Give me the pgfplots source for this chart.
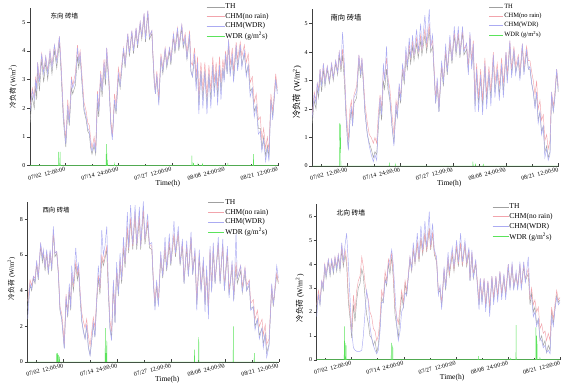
\documentclass[border=0pt]{standalone}
\usepackage{fontspec}
\setmainfont{Liberation Serif}
\newfontfamily\cjk{Noto Sans CJK SC}
\usepackage{pgfplots}
\usepackage{pgfplotstable}
\pgfplotsset{compat=1.18}
\definecolor{cTH}{HTML}{A0A0A0}
\definecolor{cNR}{HTML}{F2A4AC}
\definecolor{cWDR}{HTML}{ABABF2}
\definecolor{cRain}{HTML}{5BE35B}

% East
\pgfplotstableread{
x th nr wdr
0 1.5 2.0 1.9
13 2.4 2.7 2.6
24 2.0 2.4 2.3
32 2.8 3.1 3.0
38 2.3 2.7 2.6
43 3.4 3.6 3.6
53 2.6 3.0 2.9
66 3.7 3.9 3.9
77 2.9 3.3 3.2
89 3.6 3.8 3.8
100 3.0 3.3 3.2
113 3.8 4.0 4.0
124 3.2 3.5 3.4
138 4.0 4.2 4.2
151 3.4 3.7 3.6
166 4.3 4.5 4.5
175 3.3 3.6 3.5
188 1.6 1.9 1.8
202 0.65 0.9 0.75
213 1.9 2.3 2.1
222 1.4 1.6 1.5
234 2.7 3.1 3.0
241 2.5 2.8 2.7
256 2.8 3.2 3.0
268 3.8 4.2 4.1
275 3.4 3.7 3.6
283 3.8 4.0 3.9
294 2.8 3.1 2.9
305 1.9 2.2 2.0
317 1.6 1.9 1.7
326 1.2 1.5 1.3
335 1.1 1.4 1.2
343 0.6 0.9 0.7
350 0.4 0.6 0.5
362 0.7 1.0 0.8
371 0.4 0.6 0.5
381 2.2 2.6 2.5
388 1.7 2.0 1.9
399 3.0 3.3 3.2
407 2.4 2.7 2.6
418 3.4 3.7 3.6
426 2.8 3.1 3.0
433 3.8 4.1 4.1
445 2.9 3.1 3.0
456 1.5 1.6 1.4
465 1.0 1.0 0.9
477 2.2 2.5 2.3
486 1.8 2.1 1.9
499 3.1 3.4 3.2
509 2.7 3.0 2.8
528 4.0 4.1 4.1
537 3.4 3.6 3.5
552 4.5 4.6 4.6
561 3.8 3.9 3.9
575 4.6 4.7 4.7
584 3.9 4.0 4.0
599 4.7 4.8 4.8
607 4.1 4.2 4.2
622 4.9 5.0 5.0
631 4.4 4.5 4.5
644 5.2 5.3 5.3
652 4.3 4.4 4.4
665 5.3 5.4 5.4
674 4.4 4.5 4.5
688 4.6 4.7 4.7
693 3.9 4.0 4.0
701 2.9 3.1 3.0
708 2.5 2.6 2.5
716 3.1 3.3 3.2
727 2.2 2.3 2.1
739 3.7 3.9 3.8
750 3.2 3.4 3.3
763 4.0 4.1 4.1
772 3.4 3.6 3.5
788 4.0 4.1 4.1
795 3.5 3.7 3.6
810 4.5 4.6 4.6
818 3.9 4.1 4.0
833 4.7 4.8 4.8
840 4.0 4.2 4.1
857 4.8 4.9 4.9
865 4.1 4.3 4.2
876 4.4 4.6 4.5
886 3.7 3.9 3.7
901 4.5 4.7 4.6
908 3.3 3.6 3.3
917 3.1 3.5 3.1
929 3.8 4.1 3.9
938 2.8 3.1 2.6
946 3.5 3.8 3.6
953 2.1 2.4 1.8
965 3.3 3.6 3.3
976 2.3 2.6 2.0
987 3.3 3.6 3.3
999 2.1 2.4 1.8
1010 3.2 3.5 3.2
1021 2.3 2.6 2.0
1032 3.5 3.8 3.5
1040 2.6 2.9 2.4
1051 3.3 3.6 3.3
1059 2.4 2.7 2.1
1070 3.5 3.8 3.5
1078 2.6 2.9 2.3
1089 3.4 3.7 3.4
1096 3.0 3.3 2.9
1104 3.8 4.0 3.9
1113 3.2 3.5 3.2
1121 4.3 4.4 4.4
1130 3.2 3.5 3.1
1142 3.8 4.1 3.9
1149 3.0 3.3 2.9
1164 4.1 4.3 4.2
1172 3.4 3.7 3.3
1187 4.1 4.3 4.2
1196 3.5 3.8 3.4
1210 3.9 4.2 4.0
1221 3.2 3.6 3.1
1232 3.5 3.9 3.5
1243 2.6 2.9 2.4
1255 2.7 3.1 2.7
1266 1.9 2.2 1.7
1277 2.1 2.5 2.1
1289 1.3 1.6 1.1
1300 1.3 1.7 1.2
1309 0.6 0.9 0.5
1319 1.0 1.3 0.9
1330 0.35 0.6 0.15
1340 0.7 1.0 0.6
1349 0.3 0.5 0.15
1360 2.3 2.5 2.3
1370 1.7 1.9 1.6
1377 2.2 2.4 2.2
1387 3.0 3.2 3.0
1396 2.6 2.7 2.5
}\tA

% South
\pgfplotstableread{
x th nr wdr
0 1.5 1.8 1.7
11 2.3 2.6 2.5
21 2.0 2.3 2.2
28 2.7 2.9 2.9
36 2.4 2.7 2.6
44 3.2 3.4 3.4
53 2.6 2.9 2.8
63 3.4 3.6 3.6
72 2.8 3.0 2.9
85 3.4 3.5 3.5
97 2.9 3.0 3.0
110 3.5 3.6 3.6
119 3.0 3.1 3.1
133 3.6 3.7 3.7
144 3.2 3.3 3.3
153 3.9 4.0 4.0
163 3.3 3.5 3.5
172 3.9 4.1 4.7
182 3.0 3.4 3.6
191 1.8 2.2 1.9
199 1.0 1.4 1.0
205 0.6 0.9 0.55
214 1.6 2.0 1.6
222 2.0 2.3 2.1
229 1.4 1.7 1.4
237 2.2 2.5 2.4
252 2.4 2.8 2.6
265 3.7 3.9 3.9
275 3.1 3.3 3.2
282 3.6 3.8 3.8
290 2.9 3.1 3.0
299 1.9 2.2 1.9
313 1.1 1.5 1.1
324 0.8 1.1 0.7
335 0.6 1.0 0.4
347 0.3 0.8 0.15
356 0.5 1.0 0.4
366 0.4 0.8 0.2
375 1.3 1.8 1.5
385 2.2 2.5 2.4
394 1.6 2.0 1.8
404 3.0 3.4 3.6
411 2.7 3.1 3.0
422 3.4 3.8 4.2
430 2.7 3.1 3.0
441 2.3 2.7 2.4
453 1.4 1.8 1.4
464 0.8 1.1 0.7
476 2.0 2.3 2.2
483 1.7 2.0 1.7
494 2.6 2.8 2.9
502 2.2 2.4 2.3
513 3.3 3.5 3.6
523 2.9 3.1 3.0
532 3.8 4.0 4.2
540 3.4 3.6 3.5
551 4.1 4.3 4.5
559 3.6 3.8 3.8
570 4.2 4.4 4.6
578 3.7 3.9 3.9
593 4.3 4.5 4.8
602 3.8 4.0 4.0
616 4.4 4.6 5.0
623 3.9 4.1 4.1
640 4.6 4.8 5.3
650 4.0 4.2 4.3
665 4.8 5.0 5.5
673 4.0 4.2 4.2
684 4.2 4.4 4.6
691 3.4 3.6 3.5
701 2.2 2.4 2.2
710 2.8 3.0 3.1
720 1.9 2.1 1.9
735 3.5 3.6 3.7
745 2.8 3.0 2.9
758 4.0 4.1 4.3
767 3.2 3.4 3.3
782 4.3 4.4 4.6
794 3.6 3.8 3.7
807 4.6 4.7 4.9
817 3.9 4.1 4.0
830 4.6 4.7 4.9
839 3.8 4.0 3.9
854 4.7 4.8 4.9
862 3.9 4.1 4.0
877 4.1 4.3 4.3
887 3.3 3.5 3.2
896 4.5 4.6 4.7
906 3.5 3.7 3.4
915 4.2 4.4 4.3
925 2.1 2.3 1.9
934 3.3 3.6 3.4
945 2.2 2.4 1.9
957 3.1 3.4 3.2
968 2.1 2.3 1.8
981 3.5 3.8 3.6
991 2.3 2.5 2.0
1004 3.2 3.5 3.3
1015 2.4 2.6 2.1
1029 3.8 4.0 3.9
1038 2.6 2.9 2.4
1051 3.3 3.6 3.4
1063 2.5 2.8 2.3
1076 3.5 3.8 3.6
1086 2.6 2.9 2.4
1101 3.9 4.0 4.0
1108 3.0 3.2 2.9
1123 4.2 4.4 4.4
1133 3.2 3.4 3.1
1146 4.0 4.2 4.1
1156 3.3 3.5 3.2
1171 3.7 3.9 3.8
1180 3.1 3.3 3.0
1194 4.2 4.3 4.3
1203 3.3 3.5 3.2
1218 4.0 4.2 4.1
1228 3.4 3.7 3.4
1237 3.4 3.7 3.5
1247 2.9 3.3 2.9
1256 2.6 3.0 2.6
1266 2.1 2.5 2.0
1275 2.6 3.0 2.6
1284 1.6 2.0 1.5
1294 1.9 2.3 1.9
1303 1.2 1.6 1.1
1313 1.4 1.8 1.4
1322 0.5 0.9 0.3
1332 0.7 1.1 0.6
1341 0.3 0.6 0.2
1351 0.5 0.9 0.4
1360 2.5 2.6 2.6
1370 1.9 2.1 1.9
1379 2.4 2.6 2.5
1389 3.3 3.4 3.4
1398 2.6 2.8 2.7
}\tB

% West
\pgfplotstableread{
x th nr wdr
0 3.0 3.4 2.4
13 4.3 4.6 4.4
22 4.0 4.3 4.1
32 4.7 4.8 4.8
41 4.4 4.7 4.5
50 5.5 5.6 5.7
59 4.6 4.8 4.7
72 6.5 6.6 6.7
82 5.6 5.9 5.8
87 6.1 6.2 6.3
97 5.1 5.4 5.3
106 6.1 6.2 6.3
115 4.9 5.1 5.0
125 6.1 6.2 6.3
134 5.1 5.3 5.2
143 7.3 7.4 7.6
152 5.9 6.1 6.1
162 6.1 6.2 6.2
171 4.9 5.1 5.0
180 2.9 3.1 3.0
190 2.4 2.7 2.4
199 1.4 1.7 1.3
204 0.8 1.0 0.75
214 3.5 3.8 3.7
223 2.5 2.8 2.6
232 4.0 4.2 4.4
240 2.9 3.2 3.0
245 4.8 5.0 5.4
255 4.0 4.3 4.4
268 5.5 5.6 6.4
277 4.6 4.9 5.1
284 5.1 5.3 5.5
292 3.6 4.0 3.9
301 2.3 2.8 2.4
310 1.8 2.3 1.7
320 1.3 1.9 1.3
329 2.0 2.4 2.1
338 0.9 1.5 0.8
348 0.4 0.9 0.35
357 1.2 1.7 1.2
366 2.1 2.5 2.2
375 1.4 1.9 1.4
385 3.3 3.6 3.6
394 4.7 4.9 5.4
403 3.8 4.1 4.2
413 5.8 6.0 7.4
422 5.4 5.6 6.0
431 5.8 6.0 6.5
441 6.3 6.5 7.6
450 3.8 4.2 4.3
459 1.9 2.3 1.8
468 1.4 1.7 1.2
478 4.3 4.5 4.6
487 2.2 2.6 2.2
496 5.1 5.3 5.6
506 3.7 4.0 3.8
515 5.6 5.8 6.1
524 4.4 4.6 4.6
534 6.4 6.6 7.0
543 5.3 5.6 5.6
556 7.5 7.6 8.4
563 6.1 6.3 6.4
574 8.0 8.1 8.8
586 6.3 6.5 6.6
599 8.3 8.4 8.8
608 6.3 6.6 6.6
623 8.1 8.2 8.7
630 6.3 6.5 6.5
645 8.5 8.6 9.0
654 6.6 6.9 6.9
669 7.8 7.9 8.3
679 6.4 6.6 6.6
692 6.3 6.5 6.7
701 4.4 4.6 4.4
710 3.1 3.4 2.9
719 4.3 4.5 4.6
729 3.2 3.5 3.1
742 5.8 6.0 6.2
753 4.7 4.9 4.8
766 6.3 6.5 7.0
775 5.1 5.3 5.2
790 6.6 6.8 7.2
798 5.4 5.6 5.5
816 7.1 7.2 7.9
824 5.9 6.1 6.1
840 7.2 7.3 7.6
850 5.4 5.6 5.5
863 6.5 6.7 6.9
872 4.4 4.6 4.4
887 6.4 6.6 6.8
896 4.8 5.0 4.8
911 6.9 7.0 7.3
920 4.9 5.1 4.9
933 6.0 6.2 6.4
943 3.2 3.4 2.9
957 5.9 6.1 6.3
967 4.0 4.2 3.9
980 5.5 5.7 5.9
989 3.2 3.4 2.8
998 5.0 5.2 5.4
1008 2.8 3.0 2.4
1017 6.1 6.3 6.5
1026 4.0 4.2 3.9
1035 6.3 6.5 6.7
1045 4.4 4.6 4.4
1063 6.6 6.7 7.0
1073 4.4 4.6 4.4
1088 6.5 6.6 6.9
1097 4.0 4.3 4.0
1114 6.1 6.3 6.5
1123 3.8 4.0 3.6
1140 5.3 5.5 5.7
1149 3.5 3.7 3.4
1162 5.4 5.6 7.2
1169 4.4 4.7 4.7
1188 5.1 5.4 5.4
1197 3.9 4.2 3.9
1212 5.0 5.3 5.3
1221 4.0 4.3 4.0
1236 4.3 4.6 4.5
1244 3.0 3.3 2.9
1259 3.1 3.5 3.1
1268 2.0 2.4 1.8
1281 2.4 2.9 2.4
1292 1.5 2.0 1.3
1307 1.9 2.4 1.9
1314 1.0 1.5 0.8
1325 1.6 2.1 1.6
1333 0.5 1.0 0.25
1346 1.0 1.3 0.9
1361 4.1 4.3 4.4
1370 3.1 3.3 3.2
1389 4.9 5.0 5.4
1398 4.4 4.5 4.7
}\tC

% North
\pgfplotstableread{
x th nr wdr
0 2.1 2.3 1.8
10 2.7 2.9 2.7
19 2.3 2.5 2.3
29 3.2 3.3 3.3
38 2.9 3.1 3.0
46 3.9 4.0 4.0
54 3.4 3.6 3.5
67 4.1 4.2 4.2
77 3.5 3.7 3.6
86 4.1 4.2 4.2
96 3.6 3.8 3.7
105 4.2 4.3 4.3
115 3.7 3.9 3.8
124 4.3 4.4 4.4
134 3.7 3.9 3.8
144 4.6 4.8 4.9
153 3.9 4.1 4.1
163 4.4 4.6 4.8
172 4.0 4.2 5.3
182 2.4 2.7 4.0
192 1.7 1.9 2.5
201 0.9 1.2 1.2
211 2.3 2.7 0.5
220 1.6 2.0 0.4
230 2.5 2.9 0.35
239 3.0 3.3 0.35
249 3.2 3.5 0.35
259 3.8 4.3 0.4
268 3.5 3.9 1.0
278 2.6 3.2 2.0
287 1.9 2.8 2.9
297 1.5 2.5 2.4
306 1.0 2.0 1.4
316 0.9 1.8 0.9
326 0.6 1.3 0.6
335 0.8 1.2 0.4
345 0.3 0.8 0.25
354 0.6 1.0 0.4
364 1.4 1.7 1.2
373 2.6 2.9 2.4
383 2.4 2.6 2.4
393 3.4 3.7 3.3
402 3.1 3.3 3.2
412 4.0 4.2 4.0
421 3.6 3.9 4.2
431 4.3 4.5 4.6
440 3.4 3.6 4.0
450 1.9 2.2 2.8
460 1.4 1.8 1.5
469 0.9 1.5 0.8
479 1.9 2.2 1.2
488 2.7 2.9 2.0
498 2.2 2.4 2.2
508 3.2 3.3 2.8
517 2.7 2.9 2.7
527 3.5 3.6 3.5
536 4.2 4.3 4.3
546 3.7 3.8 3.8
555 4.6 4.7 4.9
565 4.0 4.1 4.1
578 4.9 4.9 5.3
588 4.1 4.2 4.3
599 5.1 5.1 5.6
609 4.4 4.5 4.6
622 5.3 5.3 5.8
632 4.5 4.6 4.7
647 5.5 5.5 6.2
655 4.6 4.7 4.8
666 5.3 5.3 5.7
676 4.4 4.5 4.6
689 4.1 4.2 4.3
699 2.8 2.9 2.7
709 2.9 3.0 3.1
718 2.2 2.4 2.1
732 3.7 3.8 3.9
741 2.9 3.1 3.0
755 4.2 4.3 4.5
762 3.5 3.6 3.7
779 4.4 4.5 4.7
789 3.7 3.8 3.9
804 4.7 4.8 5.0
814 3.9 4.0 4.1
827 4.9 4.9 5.3
837 3.9 4.0 4.1
852 4.8 4.8 5.0
862 3.9 4.0 4.1
875 4.5 4.6 4.7
881 3.3 3.4 3.3
892 4.4 4.5 4.6
900 3.4 3.6 3.4
914 4.0 4.1 4.2
923 3.2 3.3 3.1
933 2.3 2.4 2.1
940 3.3 3.4 3.4
950 2.4 2.6 2.3
962 3.3 3.4 3.4
971 2.2 2.3 2.0
984 3.2 3.3 3.3
994 2.1 2.2 1.8
1007 3.4 3.5 3.5
1017 2.5 2.6 2.3
1030 3.4 3.5 3.5
1040 2.6 2.7 2.4
1053 3.6 3.7 3.7
1063 2.7 2.8 2.5
1076 3.4 3.5 3.6
1086 2.7 2.8 2.5
1101 3.9 4.0 4.0
1111 3.0 3.1 2.9
1123 3.9 4.0 4.1
1132 3.0 3.1 2.9
1146 3.5 3.6 3.7
1155 3.0 3.1 2.9
1168 3.9 4.0 4.1
1176 3.0 3.1 2.9
1190 3.9 4.0 4.1
1199 3.3 3.4 3.2
1216 3.6 3.8 4.3
1226 2.3 2.5 2.7
1235 2.8 3.0 2.6
1245 2.0 2.3 1.8
1254 2.2 2.5 2.0
1264 1.5 2.0 1.4
1274 1.7 2.2 1.7
1283 0.8 1.3 0.9
1293 1.0 1.5 0.8
1302 0.6 1.1 0.5
1312 0.8 1.2 0.6
1321 0.3 0.8 0.3
1331 0.6 1.1 0.4
1341 0.4 0.8 0.25
1350 2.1 2.2 1.8
1360 1.5 1.7 1.4
1369 2.1 2.3 2.1
1379 2.7 2.9 2.6
1389 2.4 2.5 2.3
1398 2.5 2.6 2.4
}\tD

\pgfplotsset{
  panel/.style={
    scale only axis, anchor=south west,
    axis lines*=left,
    axis line style={black!75, line width=0.5pt},
    xmin=0, xmax=1400, ymin=0,
    xtick={200,500,800,1100,1400},
    minor xtick={50,350,650,950,1250},
    xticklabels={07/02\enspace 12:00:00, 07/14\enspace 24:00:00, 07/27\enspace 12:00:00, 08/08\enspace 24:00:00, 08/21\enspace 12:00:00},
    xtick align=inside, ytick align=outside,
    major tick length=3pt, minor tick length=1.8pt,
    tick style={black!75, line width=0.4pt},
    xticklabel style={rotate=14, anchor=north east, inner sep=1pt, font=\fontsize{6}{7}\selectfont},
    yticklabel style={font=\fontsize{6}{7}\selectfont, inner sep=1.5pt},
    /pgf/number format/assume math mode=true,
    xlabel={Time(h)},
    xlabel style={at={(axis description cs:0.556,0)}, anchor=center, yshift=-17.5pt, font=\fontsize{7.5}{8}\selectfont},
    ylabel={{\cjk 冷负荷} (W/m\textsuperscript{2})},
    legend cell align=left,
    legend style={draw=none, fill=none, anchor=north west, inner sep=0pt, row sep=1.5pt, font=\fontsize{7.5}{8}\selectfont, nodes={inner sep=0.7pt}},
    every axis plot/.append style={line width=0.45pt},
  },
}

\begin{document}
\begin{tikzpicture}
\useasboundingbox (0,0) rectangle (572pt,386pt);

% ---------- East ----------
\begin{axis}[panel, at={(30pt,220.3pt)}, width=248pt, height=158pt,
  ymax=5.5, ytick={0,1,2,3,4,5},
  ylabel style={at={(axis description cs:-0.069,0.5)}, anchor=center, font=\fontsize{6.9}{8}\selectfont},
  legend style={at={(axis description cs:0.710,1.032)}},
  legend image code/.code={\draw[#1] (0pt,0pt) -- (18pt,0pt);}]
\addplot[cTH] table[x=x,y=th]{\tA};
\addplot[cNR] table[x=x,y=nr]{\tA};
\addplot[cWDR] table[x=x,y=wdr]{\tA};
\addplot[cRain] coordinates {(0,0)(161,0)(162,0.48)(163,0)(169,0)(170,0.48)(171,0)(429,0)(430,0.4)(431,0)(432,0)(433,0.75)(434,0)(436,0)(437,0.2)(438,0)(476,0)(477,0.05)(478,0)(913,0)(914,0.35)(915,0)(922,0)(923,0.1)(924,0)(947,0)(948,0.05)(949,0)(973,0)(974,0.08)(975,0)(1116,0)(1117,0.1)(1118,0)(1261,0)(1262,0.4)(1263,0)(1398,0)};
\legend{TH, CHM(no rain), CHM(WDR), WDR (g/m\textsuperscript{2}s)}
\node[anchor=north west, font=\cjk\fontsize{6.5}{7}\selectfont] at (axis description cs:0.069,0.99) {东向 砖墙};
\end{axis}

% ---------- South ----------
\begin{axis}[panel, at={(312.3pt,220pt)}, width=246.3pt, height=156.6pt,
  ymax=5.5, ytick={0,1,2,3,4,5},
  ylabel style={at={(axis description cs:-0.062,0.47)}, anchor=center, font=\fontsize{8.4}{9}\selectfont},
  legend style={at={(axis description cs:0.717,1.040)}, font=\fontsize{6.5}{7}\selectfont, row sep=1.8pt},
  legend image code/.code={\draw[#1] (0pt,0pt) -- (14pt,0pt);}]
\addplot[cTH] table[x=x,y=th]{\tB};
\addplot[cNR] table[x=x,y=nr]{\tB};
\addplot[cWDR] table[x=x,y=wdr]{\tB};
\addplot[cRain] coordinates {(0,0)(154,0)(155,1.5)(156,0.9)(157,1.5)(158,1.0)(159,1.45)(160,0.6)(161,1.0)(162,0)(437,0)(438,0.12)(439,0)(471,0)(472,0.05)(473,0)(912,0)(913,0.15)(914,0)(927,0)(928,0.08)(929,0)(971,0)(972,0.07)(973,0)(1398,0)};
\legend{TH, CHM(no rain), CHM(WDR), WDR (g/m\textsuperscript{2}s)}
\node[anchor=north west, font=\cjk\fontsize{7.3}{8}\selectfont] at (axis description cs:0.06,0.99) {南向 砖墙};
\end{axis}

% ---------- West ----------
\begin{axis}[panel, at={(27.7pt,24pt)}, width=251pt, height=160.5pt,
  ymax=9, ytick={0,2,4,6,8},
  ylabel style={at={(axis description cs:-0.064,0.52)}, anchor=center, font=\fontsize{6.8}{8}\selectfont},
  legend style={at={(axis description cs:0.718,1.018)}},
  legend image code/.code={\draw[#1] (0pt,0pt) -- (16pt,0pt);}]
\addplot[cTH] table[x=x,y=th]{\tC};
\addplot[cNR] table[x=x,y=nr]{\tC};
\addplot[cWDR] table[x=x,y=wdr]{\tC};
\addplot[cRain] coordinates {(0,0)(161,0)(162,0.5)(163,0)(166,0)(167,0.5)(168,0)(170,0)(171,0.4)(172,0)(176,0)(177,0.3)(178,0)(432,0)(433,1.9)(434,0)(436,0)(437,0.5)(438,0)(440,0)(441,1.2)(442,0)(929,0)(930,0.7)(931,0)(953,0)(954,1.4)(955,0)(1146,0)(1147,2.0)(1148,0)(1263,0)(1264,0.5)(1265,0)(1398,0)};
\legend{TH, CHM(no rain), CHM(WDR), WDR (g/m\textsuperscript{2}s)}
\node[anchor=north west, font=\cjk\fontsize{6.4}{7}\selectfont] at (axis description cs:0.045,0.99) {西向 砖墙};
\end{axis}

% ---------- North ----------
\begin{axis}[panel, at={(316.7pt,26.3pt)}, width=243.6pt, height=155.3pt,
  ymax=6.5, ytick={0,1,2,3,4,5,6},
  ylabel style={at={(axis description cs:-0.069,0.394)}, anchor=center, font=\fontsize{7.6}{8}\selectfont},
  legend style={at={(axis description cs:0.72,1.008)}},
  legend image code/.code={\draw[#1] (0pt,0pt) -- (16pt,0pt);}]
\addplot[cTH] table[x=x,y=th]{\tD};
\addplot[cNR] table[x=x,y=nr]{\tD};
\addplot[cWDR] table[x=x,y=wdr]{\tD};
\addplot[cRain] coordinates {(0,0)(158,0)(159,1.4)(160,0.7)(161,0.7)(162,0)(163,0.7)(164,0)(168,0)(169,0.6)(170,0)(428,0)(429,0.7)(430,0)(436,0)(437,0.6)(438,0)(928,0)(929,0.15)(930,0)(1114,0)(1115,0.08)(1116,0)(1145,0)(1146,1.45)(1147,0)(1259,0)(1260,1.35)(1261,0.6)(1262,0)(1263,0)(1264,1.0)(1265,0)(1266,0.8)(1267,0)(1282,0)(1283,0.1)(1284,0)(1398,0)};
\legend{TH, CHM(no rain), CHM(WDR), WDR (g/m\textsuperscript{2}s)}
\node[anchor=north west, font=\cjk\fontsize{6.8}{7}\selectfont] at (axis description cs:0.067,0.985) {北向 砖墙};
\end{axis}
\end{tikzpicture}
\end{document}
